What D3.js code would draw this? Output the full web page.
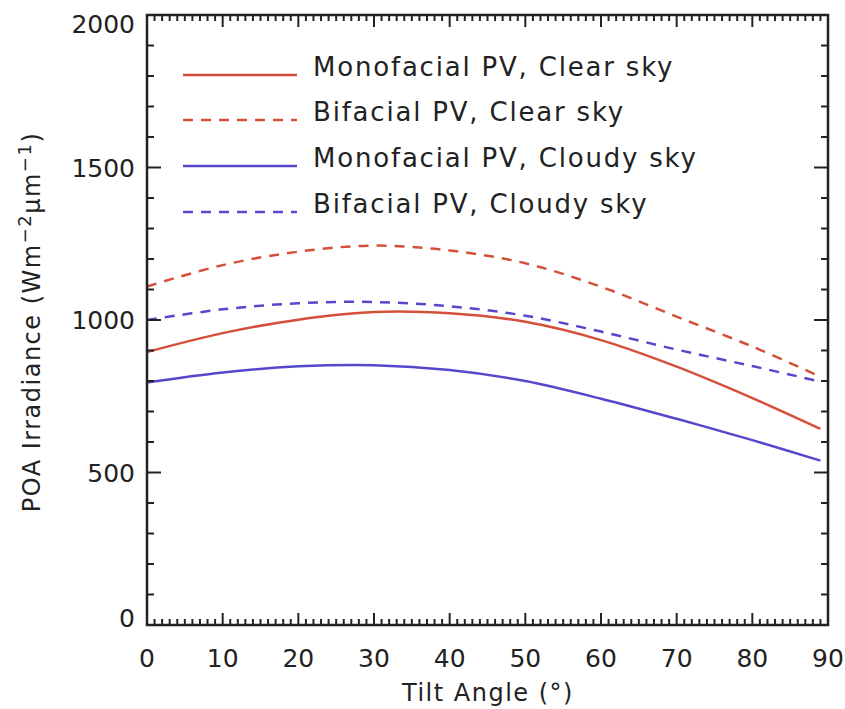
<!DOCTYPE html>
<html>
<head>
<meta charset="utf-8">
<script src="https://cdn.jsdelivr.net/npm/d3@7"></script>
<style>
  html, body { margin: 0; padding: 0; background: #fff; }
  text { font-family: "DejaVu Sans", sans-serif; fill: #222; }
</style>
</head>
<body>
<svg id="chart" width="845" height="709"></svg>
<script>
// ---- data ----
const tiltAngles = [0, 10, 20, 30, 40, 50, 60, 70, 80, 89];
const monoClear  = [895, 957, 1001, 1026, 1022, 994, 934, 847, 744, 643];
const biClear    = [1110, 1180, 1224, 1244, 1228, 1186, 1109, 1011, 913, 814];
const monoCloudy = [795, 828, 848, 852, 836, 800, 742, 676, 606, 539];
const biCloudy   = [1000, 1035, 1055, 1059, 1045, 1014, 962, 903, 849, 798];
const seriesNames = ["Monofacial PV, Clear sky", "Bifacial PV, Clear sky", "Monofacial PV, Cloudy sky", "Bifacial PV, Cloudy sky"];
const xTicks = [0, 10, 20, 30, 40, 50, 60, 70, 80, 90];
const yTicks = [0, 500, 1000, 1500, 2000];

const RED = "#d4503a", BLUE = "#5548cc";
const series = [
  { name: seriesNames[0], values: monoClear,  color: RED,  dash: null },
  { name: seriesNames[1], values: biClear,    color: RED,  dash: "10,8" },
  { name: seriesNames[2], values: monoCloudy, color: BLUE, dash: null },
  { name: seriesNames[3], values: biCloudy,   color: BLUE, dash: "10,8" }
];

const svg = d3.select("#chart");
const L = 147, R = 828, T = 15, B = 625;
const x = d3.scaleLinear().domain([0, 90]).range([L, R]);
const y = d3.scaleLinear().domain([0, 2000]).range([B, T]);

// curves
const line = d3.line().x(d => x(d[0])).y(d => y(d[1])).curve(d3.curveCatmullRom.alpha(0.5));
series.forEach(s => {
  svg.append("path")
    .datum(tiltAngles.map((t, i) => [t, s.values[i]]))
    .attr("d", line)
    .attr("fill", "none")
    .attr("stroke", s.color)
    .attr("stroke-width", 2.5)
    .attr("stroke-dasharray", s.dash);
});

// frame
svg.append("rect").attr("x", L).attr("y", T).attr("width", R - L).attr("height", B - T)
  .attr("fill", "none").attr("stroke", "#222").attr("stroke-width", 2.5);

// ticks
const tk = svg.append("g").attr("stroke", "#222").attr("stroke-width", 2);
d3.range(0, 91, 1).forEach(v => {
  const len = v % 10 === 0 ? 12 : 6;
  tk.append("line").attr("x1", x(v)).attr("x2", x(v)).attr("y1", B).attr("y2", B - len);
  tk.append("line").attr("x1", x(v)).attr("x2", x(v)).attr("y1", T).attr("y2", T + len);
});
d3.range(0, 2001, 100).forEach(v => {
  const len = v % 500 === 0 ? 14 : 7;
  tk.append("line").attr("y1", y(v)).attr("y2", y(v)).attr("x1", L).attr("x2", L + len);
  tk.append("line").attr("y1", y(v)).attr("y2", y(v)).attr("x1", R).attr("x2", R - len);
});

// tick labels
svg.selectAll(".xl").data(xTicks).enter().append("text")
  .attr("x", d => x(d)).attr("y", 667)
  .attr("text-anchor", "middle").attr("font-size", 25)
  .text(d => d);
svg.selectAll(".yl").data(yTicks).enter().append("text")
  .attr("x", 135).attr("y", d => Math.min(Math.max(y(d), 24), 618) + 9)
  .attr("text-anchor", "end").attr("font-size", 25)
  .text(d => d);

// axis titles
svg.append("text").attr("x", 488).attr("y", 701).attr("text-anchor", "middle")
  .attr("font-size", 24).attr("letter-spacing", 1.5).text("Tilt Angle (°)");
const yt = svg.append("text").attr("transform", "translate(40,322) rotate(-90)")
  .attr("text-anchor", "middle").attr("font-size", 24).attr("letter-spacing", 1.5);
yt.append("tspan").text("POA Irradiance (Wm");
yt.append("tspan").attr("dy", -9).attr("font-size", 18).text("−2");
yt.append("tspan").attr("dy", 9).text("μm");
yt.append("tspan").attr("dy", -9).attr("font-size", 18).text("−1");
yt.append("tspan").attr("dy", 9).text(")");

// legend
const legY = [75, 120, 166, 212];
series.forEach((s, i) => {
  svg.append("line").attr("x1", 183).attr("x2", 297).attr("y1", legY[i]).attr("y2", legY[i])
    .attr("stroke", s.color).attr("stroke-width", 2.5).attr("stroke-dasharray", s.dash);
  svg.append("text").attr("x", 313).attr("y", legY[i] + 1).attr("font-size", 26)
    .attr("letter-spacing", 1.8).text(s.name);
});
</script>
</body>
</html>
